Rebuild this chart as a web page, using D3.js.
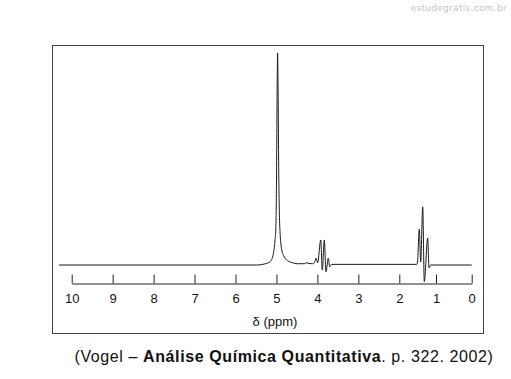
<!DOCTYPE html>
<html>
<head>
<meta charset="utf-8">
<script src="https://cdn.jsdelivr.net/npm/d3@7"></script>
<style>
  body { margin: 0; background: #fff; }
  svg { display: block; }
</style>
</head>
<body>
<svg class="nmr" width="511" height="379"></svg>
<script>
// Tick labels on the delta axis
const TICKS = [10, 9, 8, 7, 6, 5, 4, 3, 2, 1, 0];
// printed scale is not evenly spaced below 2 ppm, so the scale has extra stops
const AXIS_STOPS = [10, 2, 1, 0];

// spectrum: [ppm, relative intensity]
const BASELINE_LEFT = [[10.31, 0], [5.46, 0]];
const PEAK_5 = [
  [5.289, 0.5], [5.216, 0.9], [5.155, 1.6], [5.118, 2.5], [5.074, 5.5],
  [5.045, 9.5], [5.033, 12], [5.016, 17], [5.001, 35], [4.992, 58],
  [4.982, 85], [4.972, 100], [4.962, 87], [4.952, 62], [4.943, 42],
  [4.928, 24], [4.911, 15], [4.894, 10.5], [4.870, 7], [4.826, 4.5],
  [4.789, 3.2], [4.728, 2], [4.630, 1.2], [4.484, 0.6]
];
const BUMP_43 = [[4.32, 0.6], [4.28, 0.9], [4.261, 1.4], [4.24, 0.8], [4.12, 0.6], [4.083, 0.9]];
const MULTIPLET_4 = [
  [4.05, 2.2], [4.034, 3.2], [3.993, 1.1], [3.919, 11.8], [3.880, -2.4],
  [3.832, 11.8], [3.790, -3.2], [3.734, 3.2], [3.700, -0.8], [3.651, 0.3]
];
const MULTIPLET_13 = [
  [1.526, 0.3], [1.504, 1.4], [1.455, 17], [1.417, 1.4], [1.362, 27.4],
  [1.319, -7.8], [1.226, 12.7], [1.191, -1.4], [1.150, 0]
];
const BASELINE_RIGHT = [[0, 0]];

const spectrum = [].concat(BASELINE_LEFT, PEAK_5, BUMP_43, MULTIPLET_4, MULTIPLET_13, BASELINE_RIGHT);

const svg = d3.select(".nmr");

// frame
svg.append("rect")
  .attr("x", 52.5).attr("y", 45.5)
  .attr("width", 431).attr("height", 288)
  .attr("fill", "none")
  .attr("stroke", "#444");

const x = d3.scaleLinear()
  .domain(AXIS_STOPS)
  .range([71.7, 399.3, 436, 471.7]);

const y = d3.scaleLinear()
  .domain([0, 100])
  .range([265, 53]);

const line = d3.line()
  .x(d => x(d[0]))
  .y(d => y(d[1]))
  .curve(d3.curveMonotoneX);

svg.append("path")
  .datum(spectrum)
  .attr("d", line)
  .attr("fill", "none")
  .attr("stroke", "#1a1a1a")
  .attr("stroke-width", 1);

// x axis, ticks pointing up
const xAxis = g => g
  .attr("transform", "translate(0,283.5)")
  .call(d3.axisBottom(x)
    .tickValues(TICKS)
    .tickFormat(d3.format("d"))
    .tickSizeInner(-9)
    .tickSizeOuter(0)
    .tickPadding(10));

const ax = svg.append("g").call(xAxis);
ax.select(".domain").attr("stroke", "#222");
ax.selectAll(".tick line").attr("stroke", "#222");
ax.selectAll(".tick text")
  .attr("font-family", "Liberation Sans, Arial, sans-serif")
  .attr("font-size", 13)
  .attr("fill", "#111");

svg.append("text")
  .attr("x", 275).attr("y", 326)
  .attr("text-anchor", "middle")
  .attr("font-family", "Liberation Sans, Arial, sans-serif")
  .attr("font-size", 13)
  .attr("fill", "#111")
  .text("δ (ppm)");

// source caption
const cap = svg.append("text")
  .attr("x", 284).attr("y", 362)
  .attr("text-anchor", "middle")
  .attr("font-family", "Liberation Sans, Arial, sans-serif")
  .attr("font-size", 16)
  .attr("letter-spacing", 0.6)
  .attr("fill", "#111");
cap.append("tspan").text("(Vogel – ");
cap.append("tspan").attr("font-weight", "bold").text("Análise Química Quantitativa");
cap.append("tspan").text(". p. 322. 2002)");

// watermark
svg.append("text")
  .attr("x", 507).attr("y", 11)
  .attr("text-anchor", "end")
  .attr("font-family", "DejaVu Sans, sans-serif")
  .attr("font-size", 9)
  .attr("letter-spacing", 0.3)
  .attr("fill", "#c4c4c4")
  .text("estudegratis.com.br");
</script>
</body>
</html>
